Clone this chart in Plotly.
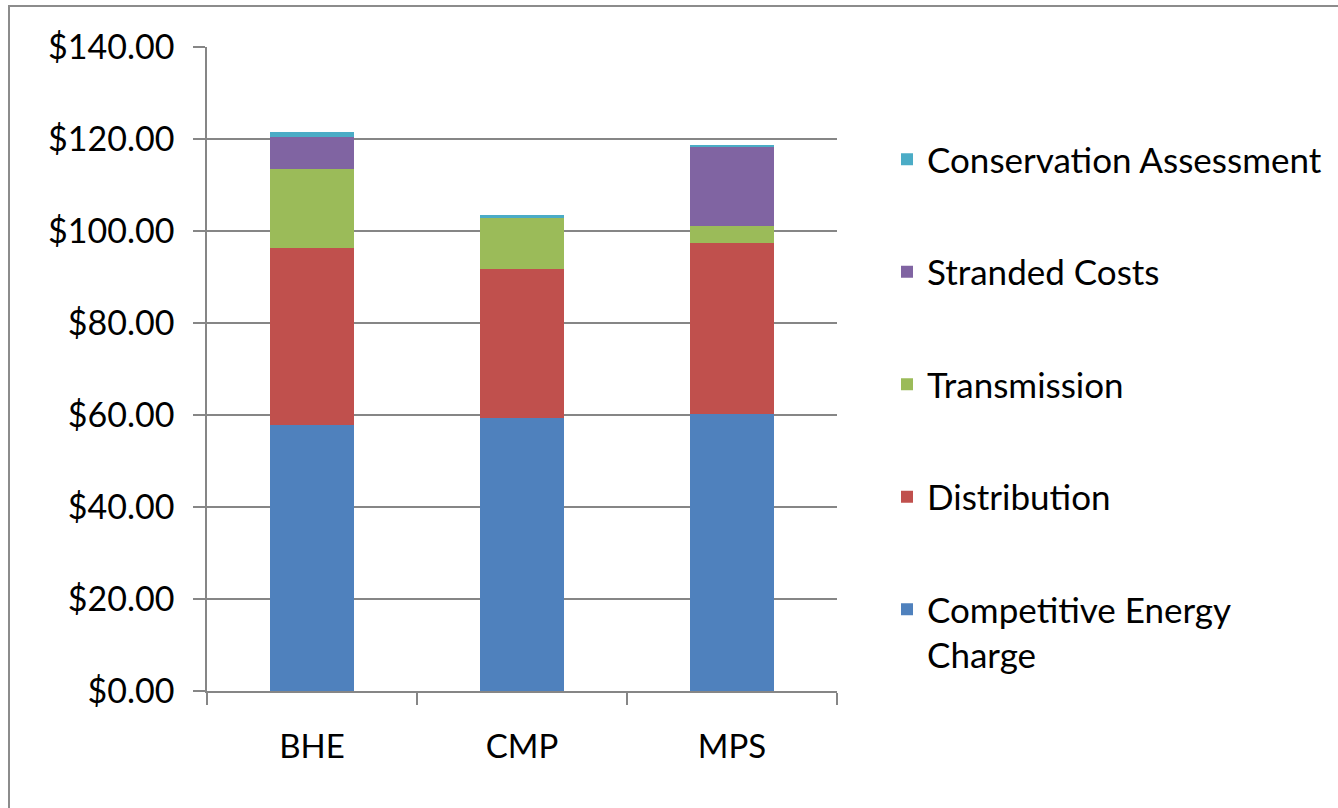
import plotly.graph_objects as go

# Monthly bill components by utility
utilities = ["BHE", "CMP", "MPS"]
competitive_energy = [57.8, 59.3, 60.3]
distribution = [38.6, 32.4, 37.0]
transmission = [17.0, 11.1, 3.8]
stranded_costs = [7.1, 0.0, 17.1]
conservation = [1.0, 0.7, 0.6]

series = [
    ("Competitive Energy<br>Charge", competitive_energy, "#4F81BD"),
    ("Distribution", distribution, "#C0504D"),
    ("Transmission", transmission, "#9BBB59"),
    ("Stranded Costs", stranded_costs, "#8064A2"),
    ("Conservation Assessment", conservation, "#4BACC6"),
]

W, H = 1338, 808
L, R, T, B = 207, 501, 47, 117
FONT = "Lato, 'Open Sans', sans-serif"

fig = go.Figure()
n = len(series)
for i, (name, vals, color) in enumerate(series):
    fig.add_trace(go.Bar(
        x=utilities, y=vals, name=name,
        marker=dict(color=color, line=dict(width=0)),
        legendgroup=f"g{i}",
        legendrank=n - i,
    ))

pw, ph = W - L - R, H - T - B
def px_x(v):
    return (v - L) / pw
def px_y(v):
    return (H - B - v) / ph

fig.update_layout(
    width=W, height=H,
    margin=dict(l=L, r=R, t=T, b=B),
    barmode="stack",
    bargap=0.6,
    paper_bgcolor="white",
    plot_bgcolor="white",
    font=dict(family=FONT, size=30, color="#000000"),
    showlegend=True,
    legend=dict(
        traceorder="grouped",
        tracegroupgap=64,
        valign="top",
        maxheight=780,
        xref="container", yref="container",
        x=887 / W, y=1 - 130 / H,
        xanchor="left", yanchor="top",
        font=dict(family=FONT, size=35, color="#000000"),
        bgcolor="rgba(0,0,0,0)",
    ),
    xaxis=dict(
        showline=True, linecolor="#868686", linewidth=1.5,
        ticks="outside", ticklen=12, tickcolor="#868686", tickwidth=1.5,
        tickson="boundaries",
        ticklabelstandoff=26,
        showgrid=False,
        tickfont=dict(family=FONT, size=33, color="#000000"),
    ),
    yaxis=dict(
        range=[0, 140], dtick=20,
        tickprefix="$", tickformat=".2f",
        showline=True, linecolor="#868686", linewidth=1.5,
        ticks="outside", ticklen=12, tickcolor="#868686", tickwidth=1.5,
        ticklabelstandoff=12,
        showgrid=True, gridcolor="#868686", gridwidth=1.5,
        zeroline=False,
        tickfont=dict(family=FONT, size=34, color="#000000"),
    ),
    shapes=[dict(
        type="rect", xref="paper", yref="paper",
        x0=px_x(9), x1=px_x(W + 20), y0=px_y(H + 20), y1=px_y(6),
        line=dict(color="#8c8c8c", width=2), fillcolor="rgba(0,0,0,0)",
        layer="below",
    )],
)

fig.write_html("out.html")
